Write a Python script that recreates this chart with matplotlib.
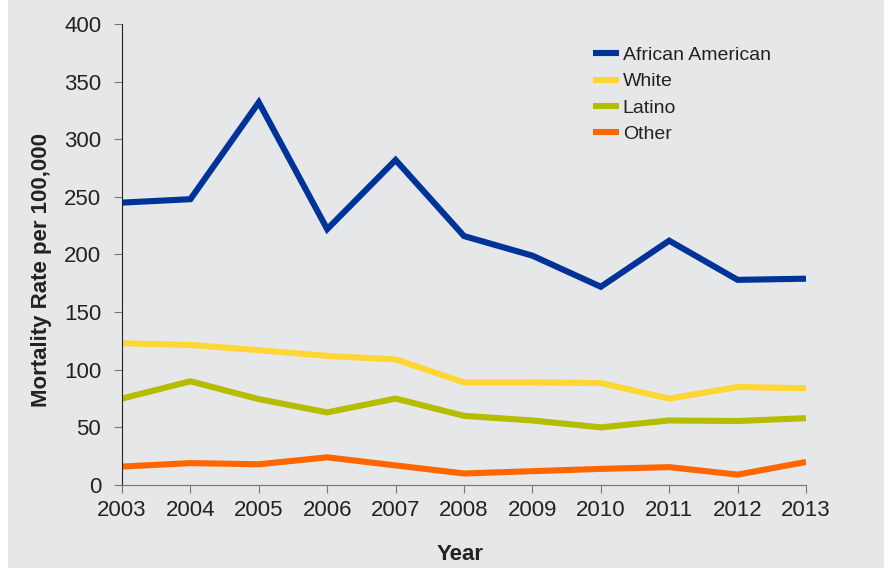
import numpy as np
import matplotlib.pyplot as plt
from matplotlib.patches import Rectangle

plt.rcParams['font.family'] = ['Liberation Sans', 'DejaVu Sans']

years = [2003, 2004, 2005, 2006, 2007, 2008, 2009, 2010, 2011, 2012, 2013]
african_american = [245, 248, 332, 222, 282, 216, 199, 172, 212, 178, 179]
white = [123, 121.5, 117, 112, 109, 89, 89, 88.5, 75, 85, 84]
latino = [75, 90, 74.5, 63, 75, 60, 56, 50, 56, 55.5, 58]
other = [16, 19, 18, 24, 17, 10, 12, 14, 15.5, 9, 20]

series = [("African American", african_american, "#003399"),
          ("White", white, "#ffd633"),
          ("Latino", latino, "#b5bd00"),
          ("Other", other, "#ff6600")]

bg = "#e6e7e9"
fig = plt.figure(figsize=(8.9, 5.71), dpi=100)
fig.patch.set_facecolor("white")
fig.patches.append(Rectangle((8/890, 3/571), 876/890, 568/571, transform=fig.transFigure,
                             facecolor=bg, edgecolor="none", zorder=-10))

ax = fig.add_axes([122/890, 86/571, 684/890, 461/571])
ax.set_facecolor(bg)

for name, vals, col in series:
    ax.plot(years, vals, color=col, lw=4.4, label=name, solid_joinstyle="miter", solid_capstyle="butt")

ax.set_xlim(2003, 2013)
ax.set_ylim(0, 400)
ax.set_xticks(years)
ax.set_yticks(np.arange(0, 401, 50))
for s in ["top", "right"]:
    ax.spines[s].set_visible(False)
ax.spines["left"].set_color("#222222")
ax.spines["bottom"].set_color("#777777")
ax.tick_params(axis="both", direction="out", length=6, labelsize=16, colors="#222222")
ax.tick_params(axis="x", colors="#777777", labelcolor="#222222", pad=5)
ax.tick_params(axis="y", colors="#777777", labelcolor="#222222", pad=9)

ax.set_xlabel("Year", fontsize=16, fontweight="bold", color="#222222")
ax.set_ylabel("Mortality Rate per 100,000", fontsize=16, fontweight="bold", color="#222222")
ax.xaxis.set_label_coords(0.494, -0.128)
ax.yaxis.set_label_coords(-0.1025, 0.466)

leg = ax.legend(loc="upper left", bbox_to_anchor=(575/890, 1 - 29/571), bbox_transform=fig.transFigure,
                frameon=False, fontsize=14, handlelength=1.35, handletextpad=0.2, labelspacing=0.45)
for t in leg.get_texts():
    t.set_color("#222222")

fig.savefig("out.png", dpi=100, facecolor=fig.get_facecolor())
